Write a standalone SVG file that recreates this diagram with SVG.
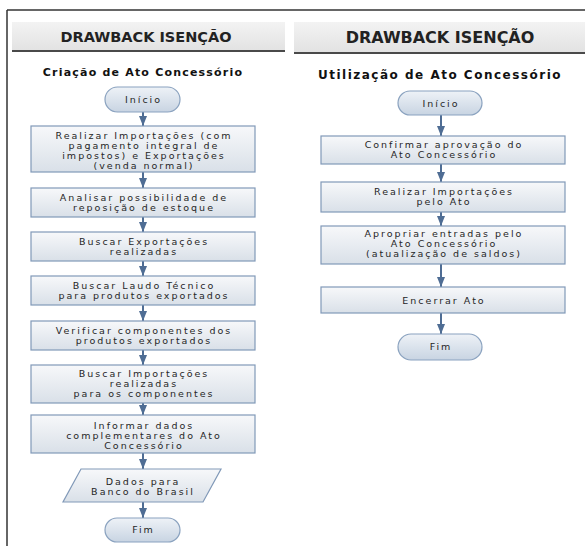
<svg xmlns="http://www.w3.org/2000/svg" width="585" height="546" viewBox="0 0 585 546">
<defs>
<linearGradient id="gBox" x1="0" y1="0" x2="0" y2="1">
<stop offset="0" stop-color="#f7f8fa"/>
<stop offset="1" stop-color="#d9e0e8"/>
</linearGradient>
<linearGradient id="gPill" x1="0" y1="0" x2="0" y2="1">
<stop offset="0" stop-color="#eef2f7"/>
<stop offset="1" stop-color="#c8d4e2"/>
</linearGradient>
<linearGradient id="gHead" x1="0" y1="0" x2="0" y2="1">
<stop offset="0" stop-color="#f3f3f3"/>
<stop offset="1" stop-color="#e2e2e2"/>
</linearGradient>
<marker id="arr" viewBox="0 0 10 8" refX="10" refY="4" markerWidth="10" markerHeight="8" markerUnits="userSpaceOnUse" orient="auto">
<path d="M0,0 L10,4 L0,8 Z" fill="#4f6d94"/>
</marker>
</defs>
<style>
.box{fill:url(#gBox);stroke:#8199b8;stroke-width:1.2}
.pill{fill:url(#gPill);stroke:#8aa2bf;stroke-width:1.2}
.t{font-family:"DejaVu Sans",Verdana,sans-serif;font-size:9.5px;fill:#262626;text-anchor:middle;letter-spacing:2px}
.h{font-family:"DejaVu Sans",Verdana,sans-serif;font-weight:bold;fill:#222;text-anchor:middle}
.ti{font-family:"DejaVu Sans",Verdana,sans-serif;font-weight:bold;fill:#111;text-anchor:middle}
.c{stroke:#4f6d94;stroke-width:2;fill:none;marker-end:url(#arr)}
</style>
<rect x="0" y="0" width="585" height="546" fill="#ffffff"/>
<g id="frame">
<line x1="7" y1="10" x2="585" y2="10" stroke="#333" stroke-width="1.5"/>
<line x1="7" y1="10" x2="7" y2="546" stroke="#333" stroke-width="1.5"/>
</g>
<g id="header-left">
<rect x="12" y="22" width="273" height="29" fill="url(#gHead)"/>
<line x1="12" y1="51" x2="285" y2="51" stroke="#4a4a4a" stroke-width="2"/>
<text class="h" x="146" y="42" font-size="14.5">DRAWBACK ISENÇÃO</text>
</g>
<g id="header-right">
<rect x="294" y="22" width="291" height="31" fill="url(#gHead)"/>
<line x1="294" y1="53" x2="585" y2="53" stroke="#4a4a4a" stroke-width="2"/>
<text class="h" x="440" y="43" font-size="16">DRAWBACK ISENÇÃO</text>
</g>
<g id="title-left"><text class="ti" x="143" y="76" font-size="11" letter-spacing="1.2">Criação de Ato Concessório</text></g>
<g id="title-right"><text class="ti" x="440" y="79" font-size="12" letter-spacing="1.5">Utilização de Ato Concessório</text></g>

<g id="connectors">
<line class="c" x1="143" y1="112" x2="143" y2="126"/>
<line class="c" x1="143" y1="172" x2="143" y2="188"/>
<line class="c" x1="143" y1="217" x2="143" y2="232"/>
<line class="c" x1="143" y1="261" x2="143" y2="276"/>
<line class="c" x1="143" y1="305" x2="143" y2="321"/>
<line class="c" x1="143" y1="350" x2="143" y2="365"/>
<line class="c" x1="143" y1="403" x2="143" y2="415"/>
<line class="c" x1="143" y1="453" x2="143" y2="469"/>
<line class="c" x1="143" y1="502" x2="143" y2="518"/>
<line class="c" x1="441" y1="115" x2="441" y2="136"/>
<line class="c" x1="441" y1="164" x2="441" y2="182"/>
<line class="c" x1="441" y1="212" x2="441" y2="226"/>
<line class="c" x1="441" y1="264" x2="441" y2="287"/>
<line class="c" x1="441" y1="313" x2="441" y2="334"/>
</g>

<g id="l-inicio"><rect class="pill" x="105" y="87" width="75" height="25" rx="12.5"/><text class="t" x="143.5" y="102.5">Início</text></g>
<g id="l-b1"><rect class="box" x="31" y="126" width="224" height="46"/>
<text class="t" x="144" y="138.5">Realizar Importações (com</text>
<text class="t" x="144" y="148.5">pagamento integral de</text>
<text class="t" x="144" y="158.5">impostos) e Exportações</text>
<text class="t" x="144" y="168.5">(venda normal)</text></g>
<g id="l-b2"><rect class="box" x="31" y="188" width="224" height="29"/>
<text class="t" x="144" y="201">Analisar possibilidade de</text>
<text class="t" x="144" y="211">reposição de estoque</text></g>
<g id="l-b3"><rect class="box" x="31" y="232" width="224" height="29"/>
<text class="t" x="144" y="245">Buscar Exportações</text>
<text class="t" x="144" y="255">realizadas</text></g>
<g id="l-b4"><rect class="box" x="31" y="276" width="224" height="29"/>
<text class="t" x="144" y="289">Buscar Laudo Técnico</text>
<text class="t" x="144" y="299">para produtos exportados</text></g>
<g id="l-b5"><rect class="box" x="31" y="321" width="224" height="29"/>
<text class="t" x="144" y="334">Verificar componentes dos</text>
<text class="t" x="144" y="344">produtos exportados</text></g>
<g id="l-b6"><rect class="box" x="31" y="365" width="224" height="38"/>
<text class="t" x="144" y="377">Buscar Importações</text>
<text class="t" x="144" y="387">realizadas</text>
<text class="t" x="144" y="397">para os componentes</text></g>
<g id="l-b7"><rect class="box" x="31" y="415" width="224" height="38"/>
<text class="t" x="144" y="429">Informar dados</text>
<text class="t" x="144" y="439">complementares do Ato</text>
<text class="t" x="144" y="449">Concessório</text></g>
<g id="l-data"><polygon class="box" points="81,469 221,469 203,502 63,502"/>
<text class="t" x="143" y="485">Dados para</text>
<text class="t" x="143" y="495">Banco do Brasil</text></g>
<g id="l-fim"><rect class="pill" x="105" y="518" width="75" height="24" rx="12"/><text class="t" x="143.5" y="532.5">Fim</text></g>

<g id="r-inicio"><rect class="pill" x="398" y="91" width="84" height="24" rx="12"/><text class="t" x="441" y="106.5">Início</text></g>
<g id="r-b1"><rect class="box" x="321" y="136" width="244" height="28"/>
<text class="t" x="444" y="148">Confirmar aprovação do</text>
<text class="t" x="444" y="158">Ato Concessório</text></g>
<g id="r-b2"><rect class="box" x="321" y="182" width="244" height="30"/>
<text class="t" x="444" y="195">Realizar Importações</text>
<text class="t" x="444" y="205">pelo Ato</text></g>
<g id="r-b3"><rect class="box" x="321" y="226" width="244" height="38"/>
<text class="t" x="444" y="237">Apropriar entradas pelo</text>
<text class="t" x="444" y="247">Ato Concessório</text>
<text class="t" x="444" y="257">(atualização de saldos)</text></g>
<g id="r-b4"><rect class="box" x="321" y="287" width="244" height="26"/>
<text class="t" x="444" y="303.5">Encerrar Ato</text></g>
<g id="r-fim"><rect class="pill" x="398" y="334" width="84" height="26" rx="13"/><text class="t" x="441" y="349.5">Fim</text></g>
</svg>
